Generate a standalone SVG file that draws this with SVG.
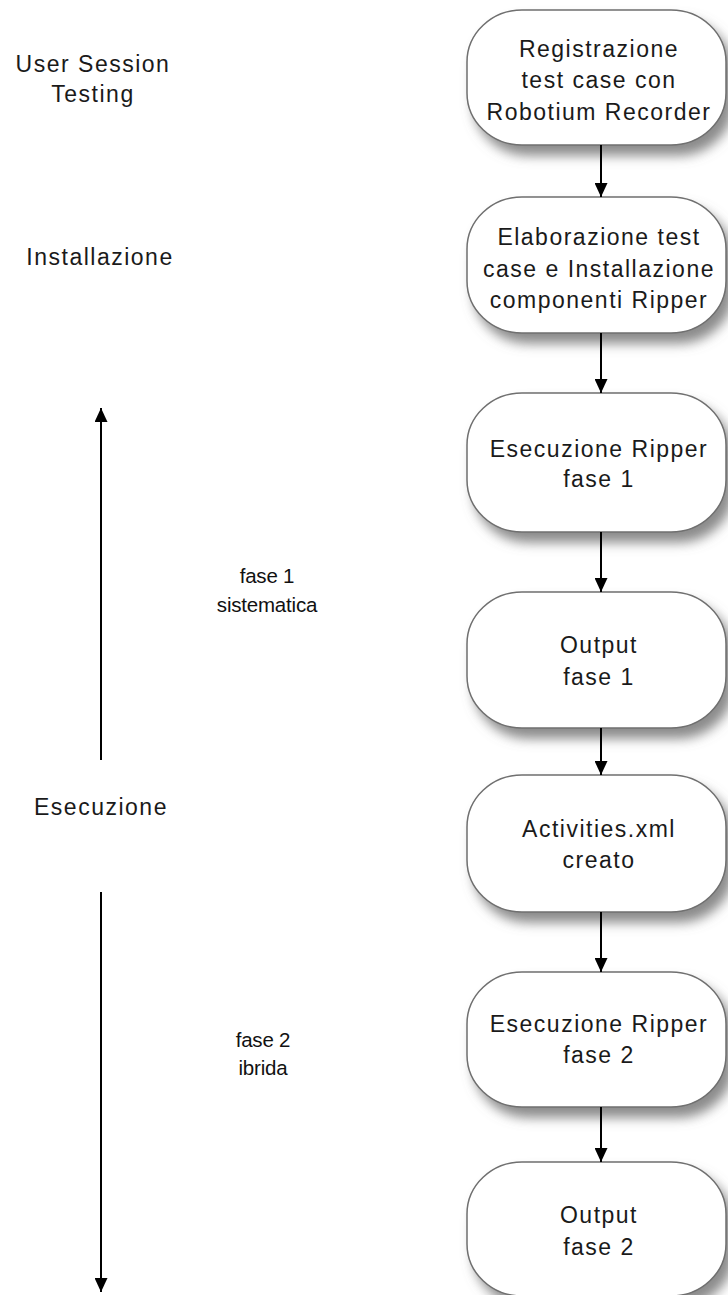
<svg xmlns="http://www.w3.org/2000/svg" width="728" height="1295" viewBox="0 0 728 1295">
  <defs>
    <filter id="shadow" x="-10%" y="-10%" width="130%" height="140%">
      <feDropShadow dx="7" dy="10" stdDeviation="6" flood-color="#6e6e6e" flood-opacity="0.8"/>
    </filter>
    <marker id="head" markerWidth="14" markerHeight="13" refX="14" refY="6.5" orient="auto" markerUnits="userSpaceOnUse">
      <path d="M0,0 L14,6.5 L0,13 Z" fill="#000"/>
    </marker>
  </defs>
  <style>
    .box { fill: #ffffff; stroke: #6f6f6f; stroke-width: 1.5; filter: url(#shadow); }
    .lbl { font-family: "Liberation Sans", Arial, sans-serif; font-size: 23px; letter-spacing: 1.5px; fill: #1a1a1a; text-anchor: middle; }
    .side { font-family: "Liberation Sans", Arial, sans-serif; font-size: 20.5px; fill: #111; text-anchor: middle; letter-spacing: -0.2px; }
    .link { stroke: #000; stroke-width: 2; fill: none; marker-end: url(#head); }
  </style>
  <rect width="728" height="1295" fill="#ffffff"/>

  <!-- phase labels on the left -->
  <g id="label-user-session">
    <text class="lbl" x="93" y="72">User Session</text>
    <text class="lbl" x="93" y="102">Testing</text>
  </g>
  <g id="label-installazione">
    <text class="lbl" x="100" y="265">Installazione</text>
  </g>
  <g id="label-esecuzione">
    <text class="lbl" x="101" y="815">Esecuzione</text>
  </g>
  <g id="label-fase1">
    <text class="side" x="267" y="583">fase 1</text>
    <text class="side" x="267" y="612">sistematica</text>
  </g>
  <g id="label-fase2">
    <text class="side" x="263" y="1047">fase 2</text>
    <text class="side" x="263" y="1075">ibrida</text>
  </g>

  <!-- flow steps -->
  <g id="step-registrazione">
    <rect class="box" x="467" y="10" width="259" height="135" rx="55" ry="52"/>
    <text class="lbl" x="599" y="57">Registrazione</text>
    <text class="lbl" x="599" y="88">test case con</text>
    <text class="lbl" x="599" y="120">Robotium Recorder</text>
  </g>
  <g id="step-elaborazione">
    <rect class="box" x="467" y="197" width="259" height="136" rx="55" ry="52"/>
    <text class="lbl" x="599" y="245">Elaborazione test</text>
    <text class="lbl" x="599" y="277">case e Installazione</text>
    <text class="lbl" x="599" y="308">componenti Ripper</text>
  </g>
  <g id="step-ripper-1">
    <rect class="box" x="467" y="393" width="259" height="139" rx="55" ry="52"/>
    <text class="lbl" x="599" y="457">Esecuzione Ripper</text>
    <text class="lbl" x="599" y="487">fase 1</text>
  </g>
  <g id="step-output-1">
    <rect class="box" x="467" y="592" width="259" height="136" rx="55" ry="52"/>
    <text class="lbl" x="599" y="653">Output</text>
    <text class="lbl" x="599" y="685">fase 1</text>
  </g>
  <g id="step-activities">
    <rect class="box" x="467" y="775" width="259" height="137" rx="55" ry="52"/>
    <text class="lbl" x="599" y="837">Activities.xml</text>
    <text class="lbl" x="599" y="868">creato</text>
  </g>
  <g id="step-ripper-2">
    <rect class="box" x="467" y="972" width="259" height="135" rx="55" ry="52"/>
    <text class="lbl" x="599" y="1032">Esecuzione Ripper</text>
    <text class="lbl" x="599" y="1063">fase 2</text>
  </g>
  <g id="step-output-2">
    <rect class="box" x="467" y="1162" width="259" height="134" rx="55" ry="52"/>
    <text class="lbl" x="599" y="1223">Output</text>
    <text class="lbl" x="599" y="1255">fase 2</text>
  </g>

  <!-- connectors -->
  <g id="connectors">
    <line class="link" x1="601" y1="145" x2="601" y2="197"/>
    <line class="link" x1="601" y1="333" x2="601" y2="393"/>
    <line class="link" x1="601" y1="532" x2="601" y2="592"/>
    <line class="link" x1="601" y1="728" x2="601" y2="775"/>
    <line class="link" x1="601" y1="912" x2="601" y2="972"/>
    <line class="link" x1="601" y1="1107" x2="601" y2="1162"/>
    <line class="link" x1="101" y1="760" x2="101" y2="408"/>
    <line class="link" x1="101" y1="892" x2="101" y2="1292"/>
  </g>
</svg>
